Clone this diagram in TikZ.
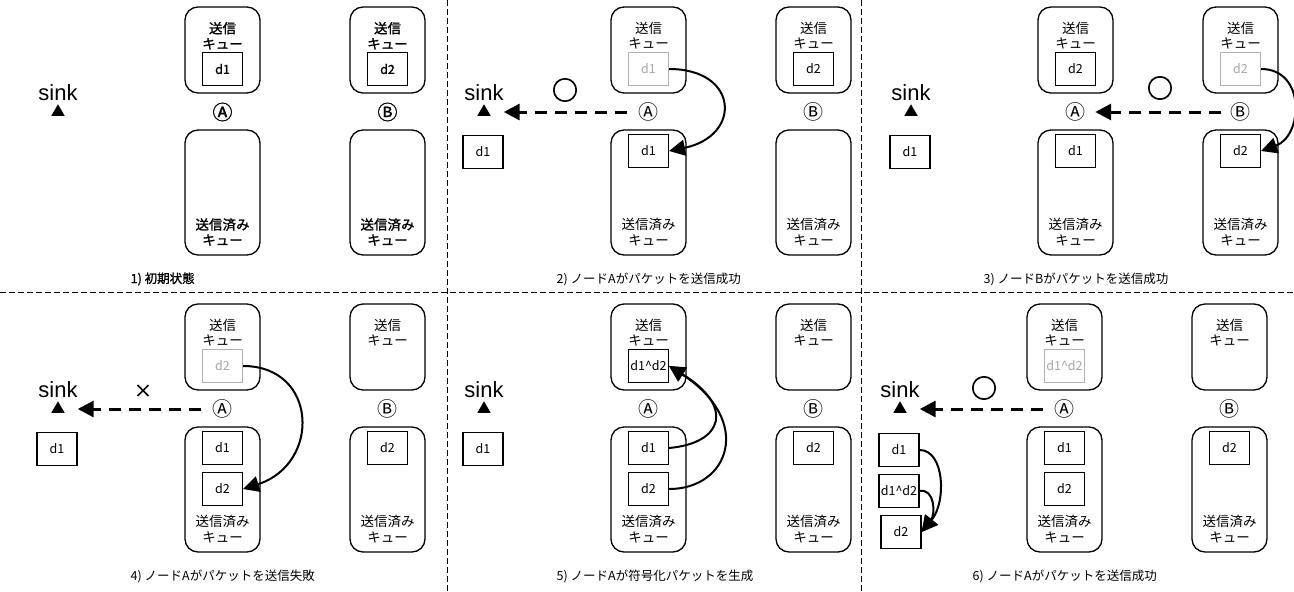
\documentclass[tikz,border=0pt]{standalone}
\usepackage{fontspec}
\setmainfont{Noto Sans CJK JP}
\newfontfamily\sinkfont{Liberation Sans}
\newfontfamily\heavyjp{Noto Sans CJK JP}[FakeBold=1.2]
\newfontfamily\ringfont{Noto Sans CJK JP}[FakeBold=2.5]
\usetikzlibrary{arrows.meta,shapes.geometric}
\newcommand\panelweight{}
\tikzset{
  sendq/.style={draw, line width=1.3pt, rounded corners=13pt, minimum width=75pt, minimum height=86pt, inner sep=0pt},
  sentq/.style={sendq, minimum height=125pt},
  qlabel/.style={align=center, inner sep=0pt, font=\panelweight\fontsize{13.5}{15.5}\selectfont},
  item/.style={draw, line width=1.2pt, minimum width=40pt, minimum height=33pt, inner sep=0pt, font=\panelweight\fontsize{12.5}{14}\selectfont},
  ghost/.style={item, draw=black!30, text=black!35},
  circlab/.style={inner sep=0pt, font=\panelweight\fontsize{20}{21}\selectfont},
  sinklab/.style={anchor=base, inner sep=0pt, font=\sinkfont\fontsize{22}{24}\selectfont},
  sinkmark/.style={regular polygon, regular polygon sides=3, fill=black, minimum size=15.5pt, inner sep=0pt},
  capt/.style={anchor=west, inner sep=0pt, font=\panelweight\fontsize{12.5}{14}\selectfont},
  resmark/.style={inner sep=0pt, font=\ringfont\fontsize{26}{27}\selectfont},
  sendarr/.style={line width=3pt, dash pattern=on 12pt off 8pt, -{Triangle[length=16pt,width=16pt]}, shorten <=11.5pt, shorten >=15pt},
  movearr/.style={line width=2pt, -{Triangle[length=16pt,width=16pt]}},
  sepline/.style={line width=1pt, dash pattern=on 6pt off 3pt},
}
\newcommand\panelbase[1]{%
  \node[sendq] (#1sa) at (164.5,50) {};
  \node[qlabel] (#1sal) at (164.5,35.75) {送信\\キュー};
  \node[circlab] (#1ca) at (164.5,112) {Ⓐ};
  \node[sentq] (#1ta) at (164.5,192.5) {};
  \node[qlabel] (#1tal) at (164.5,232) {送信済み\\キュー};
  \node[sendq] (#1sb) at (329.5,50) {};
  \node[qlabel] (#1sbl) at (329.5,35.75) {送信\\キュー};
  \node[circlab] (#1cb) at (329.5,112) {Ⓑ};
  \node[sentq] (#1tb) at (329.5,192.5) {};
  \node[qlabel] (#1tbl) at (329.5,232) {送信済み\\キュー};
  \node[sinklab] (#1s) at (0,100) {sink};
  \node[sinkmark] (#1k) at (0,112) {};
}
\begin{document}
\begin{tikzpicture}[x=1pt,y=-1pt]
\useasboundingbox (0,0) rectangle (1294,592);
% separators
\coordinate (v1t) at (447,0); \coordinate (v1b) at (447,592);
\coordinate (v2t) at (861,0); \coordinate (v2b) at (861,592);
\coordinate (hl) at (0,292); \coordinate (hr) at (1294,292);
\draw[sepline] (v1t) -- (v1b);
\draw[sepline] (v2t) -- (v2b);
\draw[sepline] (hl) -- (hr);

% panel 1
\begin{scope}[shift={(58,0)}]
  \def\panelweight{\heavyjp}
  \panelbase{a}
  \node[item] (aSA) at (164.5,69) {d1};
  \node[item] (aSB) at (329.5,69) {d2};
  \node[capt] (aC) at (72.5,279) {1) 初期状態};
\end{scope}

% panel 2
\begin{scope}[shift={(484,0)}]
  \panelbase{b}
  \node[ghost] (bSA) at (164.5,69) {d1};
  \node[item] (bTA1) at (164.5,151) {d1};
  \node[item] (bSB) at (329.5,69) {d2};
  \node[item] (bX1) at (-1,152) {d1};
  \node[resmark] (bR) at (81,90) {○};
  \draw[sendarr] (bca) -- (bk);
  \draw[movearr] (bSA.east) .. controls +(70,0) and +(73,-15) .. (bTA1.east);
  \node[capt] (bC) at (72.5,279) {2) ノードAがパケットを送信成功};
\end{scope}

% panel 3
\begin{scope}[shift={(911,0)}]
  \panelbase{c}
  \node[item] (cSA) at (164.5,69) {d2};
  \node[item] (cTA1) at (164.5,151) {d1};
  \node[ghost] (cSB) at (329.5,69) {d2};
  \node[item] (cTB1) at (329.5,151) {d2};
  \node[item] (cX1) at (-1,152) {d1};
  \node[resmark] (cR) at (249,88) {○};
  \draw[sendarr, shorten <=9.5pt, shorten >=9.5pt] (ccb) -- (cca);
  \draw[movearr] (cSB.east) .. controls +(45,0) and +(42,-15) .. (cTB1.east);
  \node[capt] (cC) at (72.5,279) {3) ノードBがパケットを送信成功};
\end{scope}

% panel 4
\begin{scope}[shift={(58,297)}]
  \panelbase{d}
  \node[ghost] (dSA) at (164.5,69) {d2};
  \node[item] (dTA1) at (164.5,151) {d1};
  \node[item] (dTA2) at (164.5,192) {d2};
  \node[item] (dTB1) at (329.5,151) {d2};
  \node[item] (dX1) at (-1,152) {d1};
  \node[resmark, font=\heavyjp\fontsize{18}{19}\selectfont] (dR) at (85,94) {×};
  \draw[sendarr] (dca) -- (dk);
  \draw[movearr] (dSA.east) .. controls +(75,0) and +(78,-25) .. (dTA2.east);
  \node[capt] (dC) at (72.5,279) {4) ノードAがパケットを送信失敗};
\end{scope}

% panel 5
\begin{scope}[shift={(484,297)}]
  \panelbase{e}
  \node[item] (eSA) at (164.5,69) {d1\textasciicircum d2};
  \node[item] (eTA1) at (164.5,151) {d1};
  \node[item] (eTA2) at (164.5,192) {d2};
  \node[item] (eTB1) at (329.5,151) {d2};
  \node[item] (eX1) at (-1,152) {d1};
  \draw[movearr] (eTA1.east) .. controls +(55,-5) and +(65,40) .. (eSA.east);
  \draw[movearr] (eTA2.east) .. controls +(60,0) and +(85,55) .. (eSA.east);
  \node[capt] (eC) at (72.5,279) {5) ノードAが符号化パケットを生成};
\end{scope}

% panel 6
\begin{scope}[shift={(900,297)}]
  \panelbase{f}
  \node[ghost] (fSA) at (164.5,69) {d1\textasciicircum d2};
  \node[item] (fTA1) at (164.5,151) {d1};
  \node[item] (fTA2) at (164.5,192) {d2};
  \node[item] (fTB1) at (329.5,151) {d2};
  \node[item] (fX1) at (-1,153) {d1};
  \node[item] (fX2) at (-1,194) {d1\textasciicircum d2};
  \node[item] (fX3) at (1,235) {d2};
  \node[resmark] (fR) at (84,91) {○};
  \draw[sendarr] (fca) -- (fk);
  \draw[movearr] (fX1.east) .. controls +(25,0) and +(25,-30) .. (fX3.east);
  \draw[movearr] (fX2.east) .. controls +(15,-3) and +(14,-18) .. (fX3.east);
  \node[capt] (fC) at (72.5,279) {6) ノードAがパケットを送信成功};
\end{scope}
\end{tikzpicture}
\end{document}
